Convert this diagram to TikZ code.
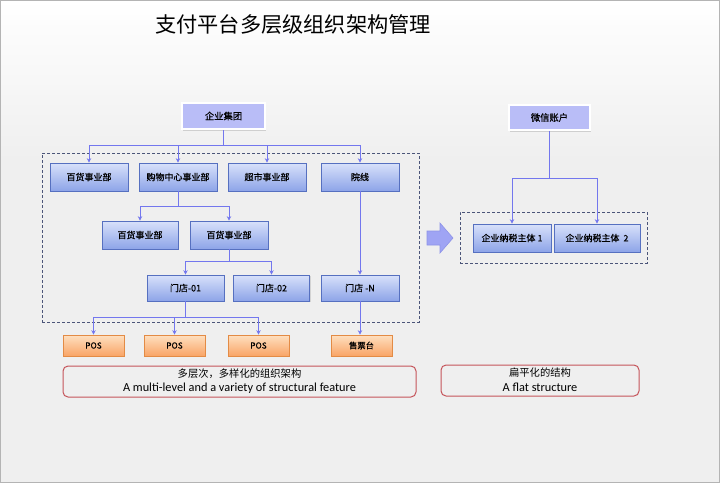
\documentclass[tikz,border=0pt]{standalone}
\usepackage{fontspec}
\setmainfont{Carlito}
\newfontfamily\cjk{Noto Sans CJK SC}
\newfontfamily\cjkb[FakeBold=0.6]{Noto Sans CJK SC}
\usetikzlibrary{arrows.meta,shadows,calc}
\definecolor{bgc}{HTML}{EFEFEF}
\definecolor{frame}{HTML}{B4B4B4}
\definecolor{conn}{HTML}{7377EE}
\definecolor{bluetop}{HTML}{D8E1FA}
\definecolor{bluebot}{HTML}{8DA4E8}
\definecolor{blueline}{HTML}{5670C0}
\definecolor{orgtop}{HTML}{FEE0C0}
\definecolor{orgbot}{HTML}{F9A466}
\definecolor{orgline}{HTML}{E38B45}
\definecolor{lav}{HTML}{B9BDF7}
\definecolor{dashc}{HTML}{4B5579}
\definecolor{redc}{HTML}{C5545A}
\definecolor{arrowfill}{HTML}{9FA4F4}
\definecolor{arrowline}{HTML}{8E93E8}
\tikzset{
  bluebox/.style={draw=blueline, line width=0.7pt, top color=bluetop, bottom color=bluebot,
    font=\cjkb\fontsize{9}{10}\selectfont, inner sep=0pt,
    drop shadow={opacity=0.25, shadow xshift=1pt, shadow yshift=-1.2pt}},
  orgbox/.style={draw=orgline, line width=0.7pt, top color=orgtop, bottom color=orgbot,
    font=\cjkb\fontsize{8.3}{9}\selectfont, inner sep=0pt, minimum width=61pt, minimum height=21pt,
    drop shadow={opacity=0.25, shadow xshift=1pt, shadow yshift=-1.2pt}},
  topbox/.style={draw=white, line width=2pt, fill=lav, font=\cjkb\fontsize{9.3}{10}\selectfont, inner sep=0pt,
    drop shadow={opacity=0.3, shadow xshift=1pt, shadow yshift=-1.5pt}},
  arr/.style={draw=conn, line width=0.9pt, -{Stealth[length=4.5pt,width=4.5pt]}},
  dashbox/.style={draw=dashc, line width=1pt, dash pattern=on 3pt off 2pt},
  capbox/.style={draw=redc, line width=1pt, rounded corners=5pt, fill=bgc},
}
\begin{document}
\begin{tikzpicture}[x=1pt,y=-1pt]
\useasboundingbox (0,0) rectangle (720,483);
% background
\shade[top color=white, bottom color=bgc] (0,0) rectangle (720,160);
\fill[bgc] (0,160) rectangle (720,483);
\draw[frame, line width=1.2pt] (0.6,0.6) rectangle (719.4,482.4);
% title
\node[font=\cjk\fontsize{21.2}{24}\selectfont, anchor=west, inner sep=0pt] (title) at (155,24) {支付平台多层级组织架构管理};
% dashed frames
\node[dashbox, minimum width=377pt, minimum height=169pt, inner sep=0pt] (frameL) at (230.5,237.5) {};
\node[dashbox, minimum width=187pt, minimum height=51pt, inner sep=0pt] (frameR) at (553.5,237.5) {};
% left tree
\node[topbox, minimum width=83pt, minimum height=26pt] (g) at (223.5,116) {企业集团};
\node[bluebox, minimum width=78pt, minimum height=28pt] (d1) at (89,177) {百货事业部};
\node[bluebox, minimum width=78pt, minimum height=28pt] (d2) at (178,177) {购物中心事业部};
\node[bluebox, minimum width=78pt, minimum height=28pt] (d3) at (267,177) {超市事业部};
\node[bluebox, minimum width=78pt, minimum height=28pt] (d4) at (360,177) {院线};
\node[bluebox, minimum width=76pt, minimum height=28pt] (e1) at (140,235) {百货事业部};
\node[bluebox, minimum width=78pt, minimum height=28pt] (e2) at (229,235) {百货事业部};
\node[bluebox, minimum width=77pt, minimum height=26pt] (s1) at (185.5,288) {门店-01};
\node[bluebox, minimum width=76pt, minimum height=26pt] (s2) at (271.5,288) {门店-02};
\node[bluebox, minimum width=78pt, minimum height=26pt] (sN) at (360,288) {门店 -N};
\node[orgbox] (p1) at (93.5,345.5) {POS};
\node[orgbox] (p2) at (174.5,345.5) {POS};
\node[orgbox] (p3) at (258.5,345.5) {POS};
\node[orgbox] (p4) at (361.5,345.5) {售票台};
\coordinate (bus1) at (0,145);
\coordinate (bus2) at (0,206);
\coordinate (bus3) at (0,261);
\coordinate (bus4) at (0,317);
\foreach \n in {d1,d2,d3,d4}{\draw[arr] (g.south) -- (g.south |- bus1) -| (\n.north);}
\foreach \n in {e1,e2}{\draw[arr] (d2.south) -- (d2.south |- bus2) -| (\n.north);}
\foreach \n in {s1,s2}{\draw[arr] (e2.south) -- (e2.south |- bus3) -| (\n.north);}
\foreach \n in {p1,p2,p3}{\draw[arr] (s1.south) -- (s1.south |- bus4) -| (\n.north);}
\draw[arr] (d4.south) -- (d4.south |- sN.north);
\draw[arr] (sN.south) -- (sN.south |- p4.north);
% right tree
\node[topbox, minimum width=81pt, minimum height=25pt] (w) at (549.5,117.5) {微信账户};
\node[bluebox, minimum width=78pt, minimum height=28pt] (t1) at (512,238) {企业纳税主体 1};
\node[bluebox, minimum width=86pt, minimum height=28pt] (t2) at (597,238) {企业纳税主体\ \ 2};
\coordinate (bus5) at (0,178);
\foreach \n in {t1,t2}{\draw[arr] (w.south) -- (w.south |- bus5) -| (\n.north);}
% big arrow
\draw[arrowline, fill=arrowfill, line width=0.6pt] (427,231) coordinate (ba) -- (440,231) -- (440,223) -- (453,238) -- (440,253) -- (440,245) -- (427,245) -- cycle;
% captions
\node[capbox, minimum width=353pt, minimum height=31pt, inner sep=0pt] (capL) at (239.5,381.5) {};
\node[font=\cjk\fontsize{10.3}{11}\selectfont] (capL1) at (239.5,373.5) {多层次，多样化的组织架构};
\node[font=\fontsize{12.3}{13}\selectfont] (capL2) at (239.5,388) {A multi-level and a variety of structural feature};
\node[capbox, minimum width=198pt, minimum height=31pt, inner sep=0pt] (capR) at (540,380.5) {};
\node[font=\cjk\fontsize{10.3}{11}\selectfont] (capR1) at (540,373) {扁平化的结构};
\node[font=\fontsize{12.3}{13}\selectfont] (capR2) at (540,387.5) {A flat structure};
\end{tikzpicture}
\end{document}
